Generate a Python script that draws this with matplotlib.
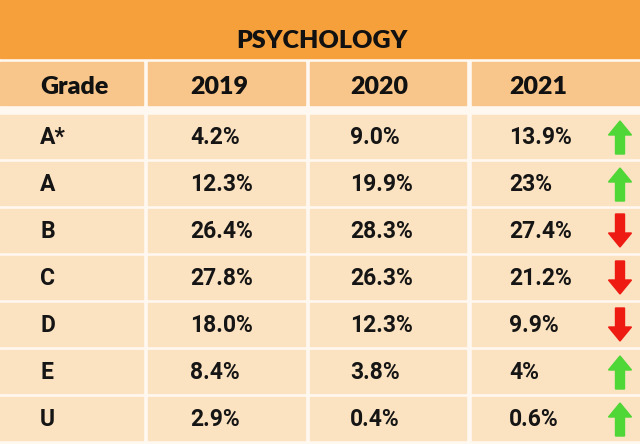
import matplotlib
matplotlib.use("Agg")
import matplotlib.pyplot as plt
from matplotlib.patches import Rectangle, FancyArrow

# ---- datos ----
titulo = "PSYCHOLOGY"
columnas = ["Grade", "2019", "2020", "2021"]
grados = ["A*", "A", "B", "C", "D", "E", "U"]
v2019 = ["4.2%", "12.3%", "26.4%", "27.8%", "18.0%", "8.4%", "2.9%"]
v2020 = ["9.0%", "19.9%", "28.3%", "26.3%", "12.3%", "3.8%", "0.4%"]
v2021 = ["13.9%", "23%", "27.4%", "21.2%", "9.9%", "4%", "0.6%"]

W, H = 640, 444
fig = plt.figure(figsize=(6.4, 4.44), dpi=100)
ax = fig.add_axes([0, 0, 1, 1])
ax.set_xlim(0, W)
ax.set_ylim(H, 0)
ax.axis("off")
fig.patch.set_facecolor("#fff8f0")

naranja = "#f6a03c"
cab = "#f8c68a"
celda = "#fbe2c0"

# banda del titulo
ax.add_patch(Rectangle((0, 0), W, 58, color=naranja, zorder=1))
ax.text(322, 41, titulo, ha="center", va="center", fontsize=18,
        fontweight="heavy", family="Lato", color="#111111", zorder=3)

# columnas: (x inicio, x fin, x texto)
col_x = [(0, 143, 40), (148, 305, 190), (310, 466, 350), (472, 640, 509)]
fila_h = 43
paso = 47
y_cab = 62

for (x0, x1, xt), nombre in zip(col_x, columnas):
    ax.add_patch(Rectangle((x0, y_cab), x1 - x0, fila_h, color=cab, zorder=1))
    ax.text(xt, y_cab + fila_h / 2 + 4, nombre, ha="left", va="center",
            fontsize=18, fontweight="heavy", family="Lato",
            color="#111111", zorder=3)

def num(s):
    return float(s.rstrip("%"))

for i, g in enumerate(grados):
    y0 = 115 + i * paso
    fila = [g, v2019[i], v2020[i], v2021[i]]
    for (x0, x1, xt), txt in zip(col_x, fila):
        ax.add_patch(Rectangle((x0, y0), x1 - x0, fila_h, color=celda, zorder=1))
        ax.text(xt, y0 + fila_h / 2 + 1, txt, ha="left", va="center",
                fontsize=16.5, fontweight="bold", family="Roboto",
                color="#151515", zorder=3)
    # flecha segun cambio 2020 -> 2021
    sube = num(v2021[i]) > num(v2020[i])
    cx = 620
    if sube:
        ar = FancyArrow(cx, y0 + 39, 0, -33, width=9, head_width=23,
                        head_length=14, length_includes_head=True,
                        color="#4fd637", zorder=4)
    else:
        ar = FancyArrow(cx, y0 + 5, 0, 33, width=9, head_width=23,
                        head_length=14, length_includes_head=True,
                        color="#ee1b12", zorder=4)
    ax.add_patch(ar)

fig.savefig("out.png", dpi=100, facecolor=fig.get_facecolor())
